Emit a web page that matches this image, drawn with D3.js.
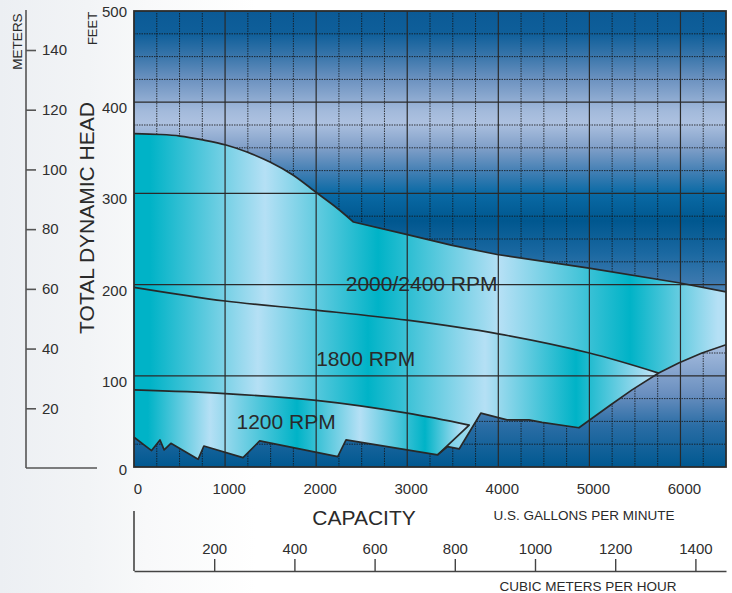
<!DOCTYPE html>
<html><head><meta charset="utf-8">
<script src="https://cdn.jsdelivr.net/npm/d3@7"></script>
<style>
html,body{margin:0;padding:0;background:#fff;}
svg{display:block;font-family:"Liberation Sans",Arial,Helvetica,sans-serif;}
</style></head><body>
<svg id="chart" width="732" height="593"></svg>
<script>
// ---------- data ----------
const gpmTicks   = [0, 1000, 2000, 3000, 4000, 5000, 6000];
const feetTicks  = [0, 100, 200, 300, 400, 500];
const meterTicks = [20, 40, 60, 80, 100, 120, 140];
const m3hTicks   = [200, 400, 600, 800, 1000, 1200, 1400];
const GPM_PER_M3H = 4.40287;

// [gpm, feet]
const curve2400 = [[0,365.5],[285,364.6],[505,362.9],[757,358.6],[1010,353.1],[1240,345.4],[1493,334.4],[1745,320.2],[2009,300.4],[2228,284],[2410,268.6],[2990,255],[3494,243],[3987,233],[4995,218],[5980,202],[6500,192]];
const curve1800 = [[0,197],[1000,182],[2000,172],[3000,161],[4000,146],[5000,125],[5761,103]];
const curve1200 = [[0,84.5],[1000,80.5],[2000,73],[3000,59],[3680,46]];
const curve1200End = [[3680,46],[3333,13.2]];
const lowerBound = [[0,32.6],[193,18],[285,29.7],[331,18.7],[405,26],[704,8.4],[767,23],[1197,10.3],[1380,28.6],[2237,11.3],[2328,29.7],[3333,13.2],[3443,22.3],[3570,19.8],[3808,59],[4096,51.6],[4337,51.6],[4480,49],[4885,43],[5232,68],[5468,84.6],[5761,103],[5980,114],[6236,125],[6500,134]];
const bandLabels = ["2000/2400 RPM", "1800 RPM", "1200 RPM"];

// ---------- layout ----------
const svg = d3.select("#chart");
const W = 732, H = 593;
const x = d3.scaleLinear().domain([0, 6500]).range([134, 726]);
const y = d3.scaleLinear().domain([0, 500]).range([467, 11]);
const yM = d3.scaleLinear().domain([0, 140]).range([468, 50]);
const xM = d3.scaleLinear().domain([0, 6500 / GPM_PER_M3H]).range([134, 726]);

const defs = svg.append("defs");
const pg = defs.append("linearGradient").attr("id","pagebg").attr("x1","0").attr("x2","1").attr("y1","0").attr("y2","0");
[[0,"#eceff3"],[0.12,"#f2f4f6"],[0.2,"#f8f9fa"],[0.35,"#ffffff"],[1,"#ffffff"]].forEach(s=>pg.append("stop").attr("offset",s[0]).attr("stop-color",s[1]));
svg.append("rect").attr("width",W).attr("height",H).attr("fill","url(#pagebg)");

const bg = defs.append("linearGradient").attr("id","plotbg").attr("gradientUnits","userSpaceOnUse")
  .attr("x1",0).attr("x2",0).attr("y1",y(500)).attr("y2",y(0));
[[0,"#0b5a96"],[0.05,"#0f5f9a"],[0.10,"#3a76ab"],[0.15,"#6c92c0"],[0.22,"#a3badb"],[0.245,"#adc1e0"],[0.30,"#809fc8"],[0.35,"#4580b4"],[0.40,"#0a6aa5"],[0.46,"#00578f"],[0.53,"#1a68a1"],[0.60,"#3f7aaf"],[0.73,"#a8bedf"],[0.84,"#6a8fbf"],[0.91,"#2a6da5"],[1,"#005890"]]
  .forEach(s=>bg.append("stop").attr("offset",s[0]).attr("stop-color",s[1]));

const TEAL = "#00b3c7", LIGHT = "#b5e0f5";
function bandGrad(id, stops){
  const g = defs.append("linearGradient").attr("id",id).attr("gradientUnits","userSpaceOnUse")
    .attr("x1",x(0)).attr("x2",x(6500)).attr("y1",0).attr("y2",0);
  const x0 = x(0), w = x(6500)-x(0);
  stops.forEach(s=>g.append("stop").attr("offset",Math.max(0,Math.min(1,(s[0]-x0)/w))).attr("stop-color",s[1]));
}
bandGrad("bandA", [[134,TEAL],[150,TEAL],[265,LIGHT],[378,TEAL],[500,LIGHT],[630,TEAL],[718,LIGHT]]);
bandGrad("bandB", [[134,TEAL],[150,TEAL],[258,LIGHT],[368,TEAL],[485,LIGHT],[576,TEAL],[650,LIGHT]]);
bandGrad("bandC", [[134,TEAL],[148,TEAL],[210,LIGHT],[297,TEAL],[360,LIGHT],[425,TEAL],[462,LIGHT]]);

const plot = svg.append("g");
plot.append("rect").attr("x",x(0)).attr("y",y(500)).attr("width",x(6500)-x(0)).attr("height",y(0)-y(500)).attr("fill","url(#plotbg)");

const minorX = d3.range(250, 6500, 250).filter(v => v % 1000 !== 0);
const minorY = d3.range(25, 500, 25).filter(v => v % 100 !== 0);
plot.append("g").selectAll("line").data(minorX).join("line")
  .attr("x1",d=>x(d)).attr("x2",d=>x(d)).attr("y1",y(0)).attr("y2",y(500))
  .attr("stroke","#161616").attr("stroke-width",1).attr("stroke-dasharray","1.5,1").attr("opacity",0.8);
plot.append("g").selectAll("line").data(minorY).join("line")
  .attr("x1",x(0)).attr("x2",x(6500)).attr("y1",d=>y(d)).attr("y2",d=>y(d))
  .attr("stroke","#161616").attr("stroke-width",1).attr("stroke-dasharray","1.5,1").attr("opacity",0.8);

const smooth = d3.line().x(d=>x(d[0])).y(d=>y(d[1])).curve(d3.curveCatmullRom.alpha(0.5));
const straight = d3.line().x(d=>x(d[0])).y(d=>y(d[1]));
const cont = (gen, pts) => gen(pts).replace(/^M/, "L");
const kink = curve2400.findIndex(d => d[0] === 2410);
const topArc = curve2400.slice(0, kink + 1), topTail = curve2400.slice(kink);
const rev = a => a.slice().reverse();
const lbRight = lowerBound.filter(d => d[0] >= 5761);
const lbMid = lowerBound.filter(d => d[0] >= 3333 && d[0] <= 5761);
const lbLeft = lowerBound.filter(d => d[0] <= 3333);

const pathA = smooth(topArc) + cont(straight, topTail) + cont(straight, rev(lbRight)) + cont(smooth, rev(curve1800)) + "Z";
const pathB = smooth(curve1800) + cont(straight, rev(lbMid)) + cont(straight, rev(curve1200End)) + cont(smooth, rev(curve1200)) + "Z";
const pathC = smooth(curve1200) + cont(straight, curve1200End) + cont(straight, rev(lbLeft)) + "Z";

plot.append("path").attr("d",pathA).attr("fill","url(#bandA)");
plot.append("path").attr("d",pathB).attr("fill","url(#bandB)");
plot.append("path").attr("d",pathC).attr("fill","url(#bandC)");

plot.append("g").selectAll("line").data(gpmTicks.filter(v=>v>0)).join("line")
  .attr("x1",d=>x(d)).attr("x2",d=>x(d)).attr("y1",y(0)).attr("y2",y(500))
  .attr("stroke","#2a2a2a").attr("stroke-width",1.2);
plot.append("g").selectAll("line").data(feetTicks.filter(v=>v>0 && v<500)).join("line")
  .attr("x1",x(0)).attr("x2",x(6500)).attr("y1",d=>y(d)).attr("y2",d=>y(d))
  .attr("stroke","#2a2a2a").attr("stroke-width",1.2);

const stroke = sel => sel.attr("fill","none").attr("stroke","#282828").attr("stroke-width",1.7).attr("stroke-linejoin","round");
plot.append("path").attr("d", smooth(topArc) + cont(straight, topTail)).call(stroke);
plot.append("path").attr("d", smooth(curve1800)).call(stroke);
plot.append("path").attr("d", smooth(curve1200) + cont(straight, curve1200End)).call(stroke);
plot.append("path").attr("d", straight(lowerBound)).call(stroke);

plot.append("rect").attr("x",x(0)).attr("y",y(500)).attr("width",x(6500)-x(0)).attr("height",y(0)-y(500))
  .attr("fill","none").attr("stroke","#2c2c2c").attr("stroke-width",1.8);

const lab = svg.append("g").attr("fill","#2a2a2a").attr("font-size",21);
lab.append("text").attr("x",x(2325)).attr("y",y(193)).text(bandLabels[0]);
lab.append("text").attr("x",x(2000)).attr("y",y(111)).text(bandLabels[1]);
lab.append("text").attr("x",x(1125)).attr("y",y(42)).text(bandLabels[2]);

const txt = "#2e2e2e";
svg.append("g").selectAll("text").data(feetTicks).join("text")
  .attr("x",127).attr("y",d=> d===500 ? y(d)+5.5 : (d===0 ? y(d)+8 : y(d)+11))
  .attr("text-anchor","end").attr("font-size",15).attr("fill",txt).text(d=>d);

svg.append("g").selectAll("text").data(gpmTicks).join("text")
  .attr("x",d=>x(d)+4).attr("y",494).attr("text-anchor","middle").attr("font-size",15).attr("fill",txt).text(d=>d);

svg.append("line").attr("x1",26).attr("x2",26).attr("y1",10).attr("y2",468).attr("stroke","#555").attr("stroke-width",1.6);
svg.append("line").attr("x1",26).attr("x2",97).attr("y1",468).attr("y2",468).attr("stroke","#555").attr("stroke-width",1.6);
const mAxis = svg.append("g").attr("transform","translate(26,0)")
  .call(d3.axisRight(yM).tickValues(meterTicks).tickSize(10).tickPadding(6).tickSizeOuter(0).tickFormat(d3.format("d")));
mAxis.select(".domain").remove();
mAxis.selectAll(".tick line").attr("stroke","#555").attr("stroke-width",1.6);
mAxis.selectAll(".tick text").attr("font-size",15).attr("fill",txt).attr("font-family","Liberation Sans, Arial, sans-serif");

svg.append("line").attr("x1",134).attr("x2",134).attr("y1",511).attr("y2",571).attr("stroke","#444").attr("stroke-width",1.6);
const m3Axis = svg.append("g").attr("transform","translate(0,571)")
  .call(d3.axisTop(xM).tickValues(m3hTicks).tickSize(12).tickPadding(5).tickSizeOuter(0).tickFormat(d3.format("d")));
m3Axis.select(".domain").attr("stroke","#444").attr("stroke-width",1.6);
m3Axis.selectAll(".tick line").attr("stroke","#444").attr("stroke-width",1.4);
m3Axis.selectAll(".tick text").attr("font-size",15).attr("fill",txt).attr("font-family","Liberation Sans, Arial, sans-serif");

svg.append("text").attr("transform","translate(94,218) rotate(-90)").attr("text-anchor","middle")
  .attr("font-size",21).attr("fill","#2a2a2a").text("TOTAL DYNAMIC HEAD");
svg.append("text").attr("transform","translate(97,28.5) rotate(-90)").attr("text-anchor","middle")
  .attr("font-size",13).attr("fill","#2a2a2a").text("FEET");
svg.append("text").attr("transform","translate(22,41.5) rotate(-90)").attr("text-anchor","middle")
  .attr("font-size",13.5).attr("fill","#2a2a2a").text("METERS");
svg.append("text").attr("x",364).attr("y",525).attr("text-anchor","middle")
  .attr("font-size",21).attr("fill","#2a2a2a").text("CAPACITY");
svg.append("text").attr("x",584).attr("y",520).attr("text-anchor","middle")
  .attr("font-size",13.5).attr("fill","#2a2a2a").text("U.S. GALLONS PER MINUTE");
svg.append("text").attr("x",588).attr("y",591).attr("text-anchor","middle")
  .attr("font-size",13.5).attr("fill","#2a2a2a").text("CUBIC METERS PER HOUR");
</script>
</body></html>
